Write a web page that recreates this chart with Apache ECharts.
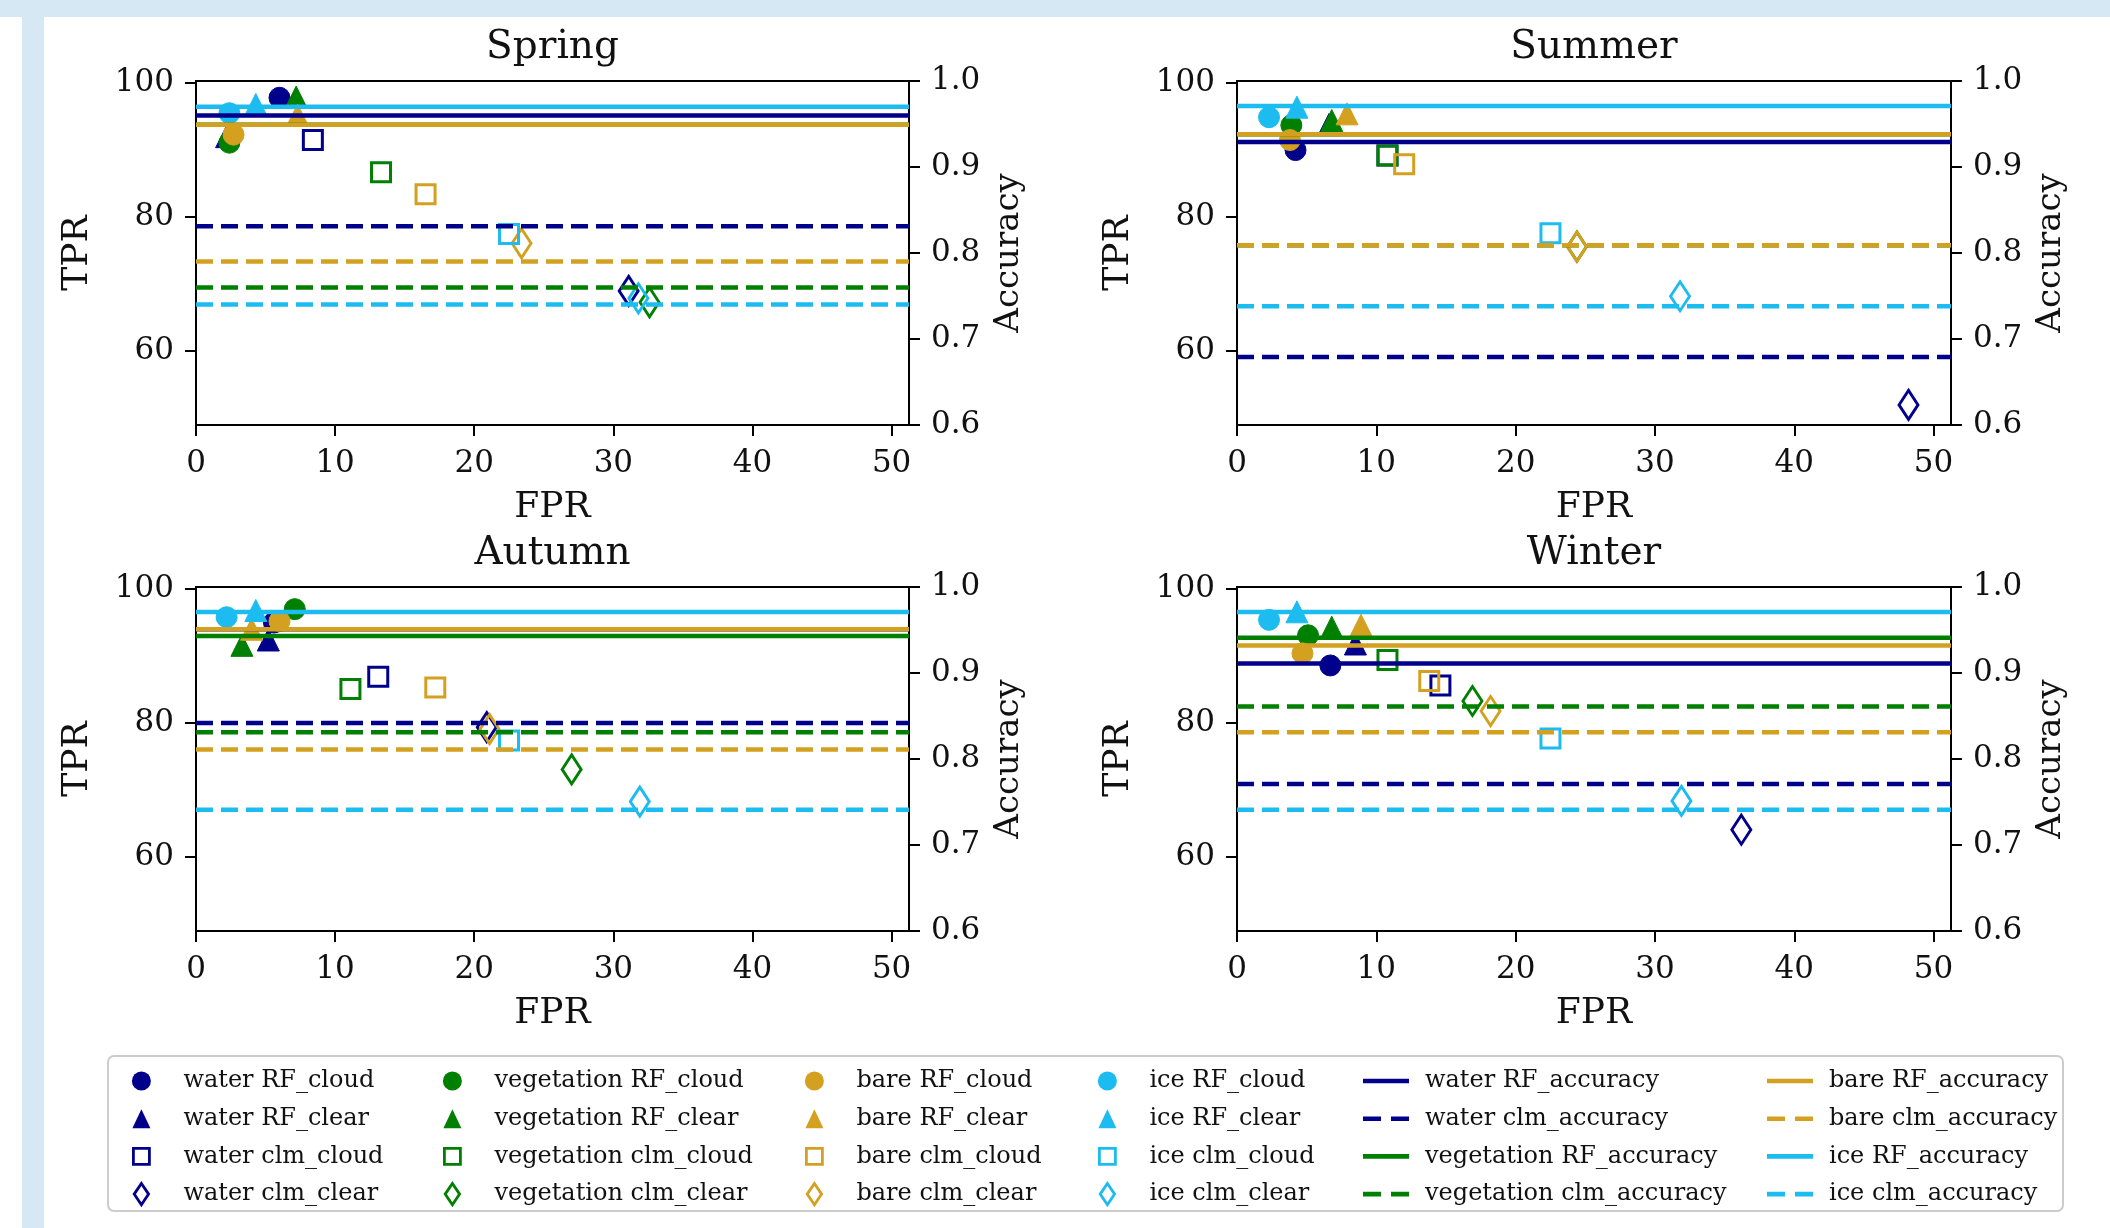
<!DOCTYPE html>
<html>
<head>
<meta charset="utf-8">
<script src="https://cdn.jsdelivr.net/npm/echarts@6/dist/echarts.min.js"></script>
<style>
html,body{margin:0;padding:0;background:#ffffff;}
#bandTop{position:absolute;left:0;top:0;width:2110px;height:17px;background:#d5e8f4;}
#bandLeft{position:absolute;left:22px;top:0;width:22px;height:1228px;background:#d5e8f4;}
#chart{position:absolute;left:0;top:0;width:2110px;height:1228px;}
</style>
</head>
<body>
<div id="bandTop"></div>
<div id="bandLeft"></div>
<div id="chart"></div>
<script>
const seasons = ['Spring', 'Summer', 'Autumn', 'Winter'];
const classes = ['water', 'vegetation', 'bare', 'ice'];
const pointKinds = ['RF_cloud', 'RF_clear', 'clm_cloud', 'clm_clear'];
const accKinds = ['RF_accuracy', 'clm_accuracy'];
const xTicks = [0, 10, 20, 30, 40, 50];
const tprTicks = [60, 80, 100];
const accTicks = [0.6, 0.7, 0.8, 0.9, 1.0];

// [FPR, TPR] for RF_cloud, RF_clear, clm_cloud, clm_clear
const springWater = [[6.0, 97.8], [2.2, 92.0], [8.4, 91.5], [31.1, 69.0]];
const springVegetation = [[2.4, 91.1], [7.2, 97.9], [13.3, 86.7], [32.6, 67.3]];
const springBare = [[2.7, 92.3], [7.3, 95.2], [16.5, 83.4], [23.4, 76.1]];
const springIce = [[2.4, 95.5], [4.3, 96.8], [22.5, 77.5], [31.8, 67.9]];

const summerWater = [[4.2, 90.0], [6.6, 93.8], [10.8, 89.2], [48.2, 52.0]];
const summerVegetation = [[3.9, 93.7], [6.8, 94.4], [10.8, 89.2], [24.4, 75.6]];
const summerBare = [[3.8, 91.5], [7.9, 95.4], [12.0, 87.9], [24.4, 75.6]];
const summerIce = [[2.3, 94.9], [4.3, 96.4], [22.5, 77.6], [31.8, 68.2]];

const autumnWater = [[5.6, 95.0], [5.2, 92.4], [13.1, 86.9], [20.9, 79.4]];
const autumnVegetation = [[7.1, 97.0], [3.3, 91.6], [11.1, 85.1], [27.0, 73.1]];
const autumnBare = [[6.0, 95.2], [4.0, 94.0], [17.2, 85.3], [21.1, 79.1]];
const autumnIce = [[2.2, 95.8], [4.3, 96.8], [22.5, 77.4], [31.9, 68.3]];

const winterWater = [[6.7, 88.6], [8.5, 91.8], [14.6, 85.6], [36.2, 64.1]];
const winterVegetation = [[5.1, 93.1], [6.8, 94.3], [10.8, 89.4], [16.9, 83.3]];
const winterBare = [[4.7, 90.4], [8.9, 94.6], [13.8, 86.3], [18.2, 81.8]];
const winterIce = [[2.3, 95.4], [4.3, 96.6], [22.5, 77.7], [31.9, 68.4]];

// accuracy values, order: water, vegetation, bare, ice
const springAccRF = [0.960, 0.949, 0.949, 0.970];
const springAccClm = [0.831, 0.760, 0.790, 0.740];
const summerAccRF = [0.929, 0.938, 0.938, 0.971];
const summerAccClm = [0.679, 0.809, 0.809, 0.738];
const autumnAccRF = [0.951, 0.943, 0.951, 0.971];
const autumnAccClm = [0.842, 0.831, 0.811, 0.741];
const winterAccRF = [0.911, 0.941, 0.932, 0.971];
const winterAccClm = [0.771, 0.861, 0.831, 0.741];

const X_MIN = 0, X_MAX = 51.25;
const TPR_MIN = 49, TPR_MAX = 100.3;
const ACC_MIN = 0.6, ACC_MAX = 1.0;

const points = [
  [springWater, springVegetation, springBare, springIce],
  [summerWater, summerVegetation, summerBare, summerIce],
  [autumnWater, autumnVegetation, autumnBare, autumnIce],
  [winterWater, winterVegetation, winterBare, winterIce]
];
const accRF = [springAccRF, summerAccRF, autumnAccRF, winterAccRF];
const accClm = [springAccClm, summerAccClm, autumnAccClm, winterAccClm];

const COLORS = {water: '#00008b', vegetation: '#008000', bare: '#d4a020', ice: '#1cbcf0'};
const FONT = 'DejaVu Serif';
const TXT = '#111111';
const DIAMOND = 'path://M0,-14L8.5,0L0,14L-8.5,0Z';

const grids = [
  {left: 196, top: 81, width: 713, height: 344},
  {left: 1237, top: 81, width: 714, height: 344},
  {left: 196, top: 587, width: 713, height: 344},
  {left: 1237, top: 587, width: 714, height: 344}
];

function symbolFor(kind) {
  if (kind === 'RF_cloud') return {symbol: 'circle', size: 21, hollow: false};
  if (kind === 'RF_clear') return {symbol: 'triangle', size: 22, hollow: false};
  if (kind === 'clm_cloud') return {symbol: 'rect', size: 19, hollow: true};
  return {symbol: DIAMOND, size: [19, 29], hollow: true};
}

const option = {
  backgroundColor: 'transparent',
  animation: false,
  title: [], grid: [], xAxis: [], yAxis: [], series: [], legend: [],
  graphic: [{
    type: 'rect', z: 0,
    shape: {x: 108, y: 1056, width: 1955, height: 155, r: 6},
    style: {fill: '#ffffff', stroke: '#cccccc', lineWidth: 2}
  }]
};

seasons.forEach((s, i) => {
  const g = grids[i];
  option.grid.push(Object.assign({show: true, borderColor: '#000', borderWidth: 2, backgroundColor: 'transparent'}, g));
  option.title.push({
    text: s, left: g.left + g.width / 2, top: g.top - 53, textAlign: 'center', padding: 0,
    textStyle: {fontFamily: FONT, fontSize: 39, fontWeight: 'normal', color: TXT}
  });
  option.xAxis.push({
    type: 'value', gridIndex: i, min: X_MIN, max: X_MAX,
    name: 'FPR', nameLocation: 'middle', nameGap: 65,
    nameTextStyle: {fontFamily: FONT, fontSize: 36, color: TXT},
    axisLine: {show: true, lineStyle: {color: '#000', width: 2}},
    axisTick: {show: true, length: 11, lineStyle: {color: '#000', width: 2}, customValues: xTicks},
    axisLabel: {customValues: xTicks, fontFamily: FONT, fontSize: 31, color: TXT, margin: 23},
    splitLine: {show: false}
  });
  option.yAxis.push({
    type: 'value', gridIndex: i, min: TPR_MIN, max: TPR_MAX, position: 'left',
    name: 'TPR', nameLocation: 'middle', nameRotate: 90, nameGap: 100,
    nameTextStyle: {fontFamily: FONT, fontSize: 36, color: TXT},
    axisLine: {show: true, lineStyle: {color: '#000', width: 2}},
    axisTick: {show: true, length: 11, lineStyle: {color: '#000', width: 2}, customValues: tprTicks},
    axisLabel: {customValues: tprTicks, fontFamily: FONT, fontSize: 31, color: TXT, margin: 22},
    splitLine: {show: false}
  });
  option.yAxis.push({
    type: 'value', gridIndex: i, min: ACC_MIN, max: ACC_MAX, position: 'right',
    name: 'Accuracy', nameLocation: 'middle', nameRotate: 90, nameGap: 83,
    nameTextStyle: {fontFamily: FONT, fontSize: 34, color: TXT},
    axisLine: {show: true, lineStyle: {color: '#000', width: 2}},
    axisTick: {show: true, length: 11, lineStyle: {color: '#000', width: 2}, customValues: accTicks},
    axisLabel: {customValues: accTicks, fontFamily: FONT, fontSize: 31, color: TXT, margin: 22,
      formatter: v => Number(v).toFixed(1)},
    splitLine: {show: false}
  });
  classes.forEach((c, ci) => {
    pointKinds.forEach((k, ki) => {
      const sym = symbolFor(k);
      option.series.push({
        type: 'scatter', name: c + ' ' + k, xAxisIndex: i, yAxisIndex: 2 * i,
        data: [points[i][ci][ki]], symbol: sym.symbol, symbolSize: sym.size,
        silent: true, z: 2,
        itemStyle: sym.hollow
          ? {color: 'rgba(0,0,0,0)', borderColor: COLORS[c], borderWidth: 3, opacity: 1}
          : {color: COLORS[c], borderColor: COLORS[c], borderWidth: 1, opacity: 1}
      });
    });
  });
  classes.forEach((c, ci) => {
    [accRF[i][ci], accClm[i][ci]].forEach((v, ai) => {
      option.series.push({
        type: 'line', name: c + ' ' + accKinds[ai], xAxisIndex: i, yAxisIndex: 2 * i + 1,
        data: [[X_MIN, v], [X_MAX, v]], symbol: 'none', silent: true, z: 3,
        lineStyle: {color: COLORS[c], width: 4.5, type: ai === 0 ? 'solid' : [17, 8]},
        itemStyle: {color: COLORS[c]}
      });
    });
  });
});

// legend icons (paths padded to the full icon box so shapes keep their own size and stay centred)
const PAD = 'M-37,-12L-37,-12M37,12L37,12';
const PAD_HOLLOW = 'M-37,-10.6L-37,-10.6M37,10.6L37,10.6';
const LINE_SOLID = 'path://M-11,0L-11,0M0,-2.3L46,-2.3L46,2.3L0,2.3ZM57,0L57,0';
const LINE_DASH = 'path://M-11,0L-11,0M0,-2.3L18,-2.3L18,2.3L0,2.3ZM28,-2.3L46,-2.3L46,2.3L28,2.3ZM57,0L57,0';
const markerIcons = {
  RF_cloud: 'path://M0,-9.5A9.5,9.5,0,1,1,0,9.5A9.5,9.5,0,1,1,0,-9.5Z' + PAD,
  RF_clear: 'path://M0,-9.5L9,9.5L-9,9.5Z' + PAD,
  clm_cloud: 'path://M-8,-8L8,-8L8,8L-8,8Z' + PAD_HOLLOW,
  clm_clear: 'path://M0,-10.6L7.2,0L0,10.6L-7.2,0Z' + PAD_HOLLOW
};
const legendTextStyle = {fontFamily: FONT, fontSize: 24, color: TXT};
const LEG_TOP = 1069, LEG_H = 24, LEG_GAP = 13.7;
const markerCols = [103, 414, 776, 1069];
classes.forEach((c, ci) => {
  option.legend.push({
    orient: 'vertical', left: markerCols[ci], top: LEG_TOP, padding: 0,
    itemWidth: 74, itemHeight: LEG_H, itemGap: LEG_GAP, selectedMode: false,
    symbolKeepAspect: true,
    textStyle: legendTextStyle,
    data: pointKinds.map(k => {
      const hollow = k.indexOf('clm') === 0;
      return {
        name: c + ' ' + k, icon: markerIcons[k],
        itemStyle: hollow
          ? {color: 'rgba(0,0,0,0)', borderColor: COLORS[c], borderWidth: 2.8, opacity: 1}
          : {color: COLORS[c], borderColor: COLORS[c], borderWidth: 0, opacity: 1}
      };
    })
  });
});
const lineCols = [[1352, ['water', 'vegetation']], [1756, ['bare', 'ice']]];
lineCols.forEach(([left, cls]) => {
  const data = [];
  cls.forEach(c => {
    accKinds.forEach((k, ai) => {
      data.push({
        name: c + ' ' + k, icon: ai === 0 ? LINE_SOLID : LINE_DASH,
        itemStyle: {color: COLORS[c], borderWidth: 0, opacity: 1}
      });
    });
  });
  option.legend.push({
    orient: 'vertical', left: left, top: LEG_TOP, padding: 0,
    itemWidth: 68, itemHeight: LEG_H, itemGap: LEG_GAP, selectedMode: false,
    symbolKeepAspect: true,
    textStyle: legendTextStyle, data: data
  });
});

const chart = echarts.init(document.getElementById('chart'), null, {renderer: 'canvas'});
chart.setOption(option);
</script>
</body>
</html>
